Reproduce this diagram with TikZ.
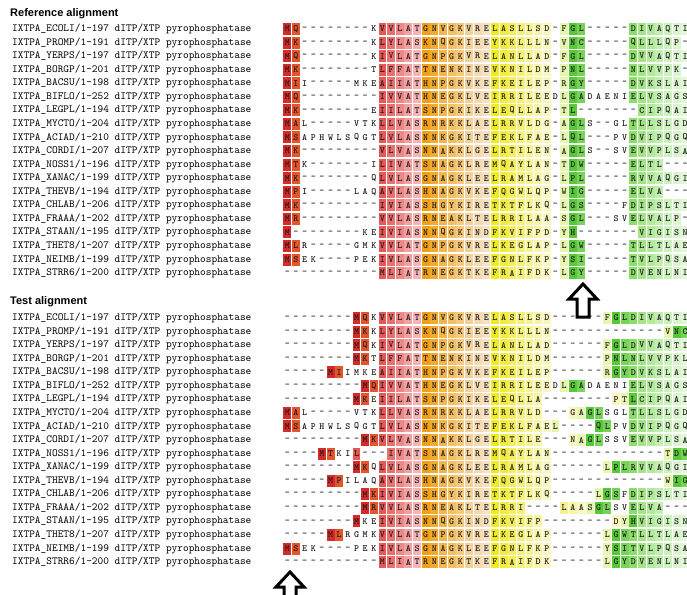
\documentclass[tikz,border=0pt]{standalone}
\usepackage{fontspec}
\setmainfont{Liberation Sans}
\usetikzlibrary{positioning}

% residue colours, one per core column of the reference alignment
\definecolor{resa}{HTML}{D42A2A}
\definecolor{resb}{HTML}{E4552E}
\definecolor{resc}{HTML}{E65858}
\definecolor{resd}{HTML}{EA7070}
\definecolor{rese}{HTML}{EE8888}
\definecolor{resf}{HTML}{F2A0A0}
\definecolor{resg}{HTML}{F5B5B5}
\definecolor{resh}{HTML}{F0A018}
\definecolor{resi}{HTML}{F2AA30}
\definecolor{resj}{HTML}{F4B54C}
\definecolor{resk}{HTML}{F5C064}
\definecolor{resl}{HTML}{F6CA7E}
\definecolor{resm}{HTML}{F2D09A}
\definecolor{resn}{HTML}{F4DAB0}
\definecolor{reso}{HTML}{F6E2C2}
\definecolor{resp}{HTML}{F0EA20}
\definecolor{resq}{HTML}{F2EC40}
\definecolor{resr}{HTML}{F4EE60}
\definecolor{ress}{HTML}{F5F07A}
\definecolor{rest}{HTML}{F6F292}
\definecolor{resu}{HTML}{F8F4AA}
\definecolor{resv}{HTML}{F9F6C2}
\definecolor{resw}{HTML}{E8F5B0}
\definecolor{resx}{HTML}{58C838}
\definecolor{resy}{HTML}{78D458}
\definecolor{res1}{HTML}{8CDE6A}
\definecolor{res2}{HTML}{A2E486}
\definecolor{res3}{HTML}{B2E99C}
\definecolor{res4}{HTML}{C2EEB0}
\definecolor{res5}{HTML}{CEF1C0}
\definecolor{res6}{HTML}{DAF4CE}
\definecolor{res7}{HTML}{E4F7DA}

\newcount\colno
\def\cellw{8.65}
\def\seqx{283}
\def\rowgap{13.56}
% colour template of the reference alignment
\def\reftpl{ab.........cdefghijklmnopqrstuv.wxy.....1234567}

% one residue: character #1, colour code #2
\def\resbox#1#2{%
  \pgfmathsetmacro\cx{\seqx+(\the\colno-0.5)*\cellw}%
  \if-#1\relax
    \node[res] (\blk-\rowid-\the\colno) at (\cx pt,\rowy pt) {-};%
  \else\if.#2\relax
    \node[res] (\blk-\rowid-\the\colno) at (\cx pt,\rowy pt) {#1};%
  \else
    \node[res, fill=res#2] (\blk-\rowid-\the\colno) at (\cx pt,\rowy pt) {#1};%
  \fi\fi}
\def\rowres#1#2\relax#3#4\relax{%
  \ifx!#1\else
    \advance\colno by 1
    \resbox{#1}{#3}%
    \rowres#2\relax#4\relax
  \fi}
% block top, row number, id, residues, colours
\newcommand\seqrow[5]{%
  \pgfmathsetmacro\rowy{-#1-(#2-1)*\rowgap}%
  \node[lbl] (\blk-lab-#2) at (12pt,\rowy pt) {IXTPA\_#3 dITP/XTP pyrophosphatase};%
  \def\rowid{#2}\colno=0
  \edef\next{\noexpand\rowres#4!\noexpand\relax#5!\noexpand\relax}\next}

\begin{document}
\begin{tikzpicture}[
    x=1pt, y=1pt,
    lbl/.style={anchor=west, inner sep=0pt, font=\ttfamily\fontsize{10.85}{11}\selectfont, text=black},
    res/.style={inner sep=0pt, minimum width=7.9pt, minimum height=12pt, font=\ttfamily\bfseries\fontsize{9.5}{10}\selectfont, text=black!90},
    title/.style={anchor=west, inner sep=0pt, font=\bfseries\fontsize{11}{12}\selectfont},
    uparrow/.style={line width=3pt, fill=white, line join=miter}
]
\useasboundingbox (0,0) rectangle (687,-594);
\begin{scope}
\clip (0,0) rectangle (687,-594);

% Reference alignment
\node[title] (reftitle) at (10,-14) {Reference alignment};
\def\blk{ref}
\seqrow{29}{1}{ECOLI/1-197}{MQ--------KVVLATGNVGKVRELASLLSD-FGL-----DIVAQTI}{\reftpl}
\seqrow{29}{2}{PROMP/1-191}{MK--------KLYLASKNQGKIEEYKKLLLN-VNC-----QLLLQP-}{\reftpl}
\seqrow{29}{3}{YERPS/1-197}{MQ--------KIVLATGNPGKVRELANLLAD-FGL-----DVVAQTI}{\reftpl}
\seqrow{29}{4}{BORGP/1-201}{MK--------TLFFATTNENKINEVKNILDM-PNL-----NLVVPK-}{\reftpl}
\seqrow{29}{5}{BACSU/1-198}{MII-----MKEAIIATHNPGKVKEFKEILEP-RGY-----DVKSLAI}{\reftpl}
\seqrow{29}{6}{BIFLO/1-252}{MQ---------IVVATHNEGKLVEIRRILEEDLGADAENIELVSAGS}{\reftpl}
\seqrow{29}{7}{LEGPL/1-194}{MK--------EIILATSNPGKIKELEQLLAP-TL-------CIPQAI}{\reftpl}
\seqrow{29}{8}{MYCTO/1-204}{MAL-----VTKLLVASRNRKKLAELRRVLDG-AGLS--GLTLLSLGD}{\reftpl}
\seqrow{29}{9}{ACIAD/1-210}{MSAPHWLSQGTLVLASNNKGKITEFEKLFAE-LQL---PVDVIPQGQ}{\reftpl}
\seqrow{29}{10}{CORDI/1-207}{MK---------VLVASNNAKKLGELRTILEN-AGLS--SVEVVPLSA}{\reftpl}
\seqrow{29}{11}{NOSS1/1-196}{MTK-------ILIVATSNAGKLREMQAYLAN-TDW-----ELTL---}{\reftpl}
\seqrow{29}{12}{XANAC/1-199}{MK--------QLVLASGNAGKLEELRAMLAG-LPL-----RVVAQGI}{\reftpl}
\seqrow{29}{13}{THEVB/1-194}{MPI-----LAQAVLASHNAGKVKEFQGWLQP-WIG-----ELVA---}{\reftpl}
\seqrow{29}{14}{CHLAB/1-206}{MK---------IVIASSHGYKIRETKTFLKQ-LGS----FDIPSLTI}{\reftpl}
\seqrow{29}{15}{FRAAA/1-202}{MR---------VVLASRNEAKLTELRRILAA-SGL---SVELVALP-}{\reftpl}
\seqrow{29}{16}{STAAN/1-195}{M--------KEIVIASNNQGKINDFKVIFPD-YH-------VIGISN}{\reftpl}
\seqrow{29}{17}{THET8/1-207}{MLR-----GMKVVLATGNPGKVRELKEGLAP-LGW-----TLLTLAE}{\reftpl}
\seqrow{29}{18}{NEIMB/1-199}{MSEK----PEKIVLASGNAGKLEEFGNLFKP-YSI-----TVLPQSA}{\reftpl}
\seqrow{29}{19}{STRR6/1-200}{-----------MLIATRNEGKTKEFRAIFDK-LGY-----DVENLNI}{\reftpl}

% Test alignment
\node[title] (testtitle) at (10,-302) {Test alignment};
\def\blk{test}
\seqrow{318}{1}{ECOLI/1-197}{--------MQKVVLATGNVGKVRELASLLSD------FGLDIVAQTI}{........ab.cdefghijklmnopqrstuv......wxy1234567}
\seqrow{318}{2}{PROMP/1-191}{--------MKKLYLASKNQGKIEEYKKLLLN-------------VNC}{........ab.cdefghijklmnopqrstuv.............wxy}
\seqrow{318}{3}{YERPS/1-197}{--------MQKIVLATGNPGKVRELANLLAD------FGLDVVAQTI}{........ab.cdefghijklmnopqrstuv......wxy1234567}
\seqrow{318}{4}{BORGP/1-201}{--------MKTLFFATTNENKINEVKNILDM------PNLNLVVPKL}{........ab.cdefghijklmnopqrstuv......wxy1234567}
\seqrow{318}{5}{BACSU/1-198}{-----MIIMKEAIIATHNPGKVKEFKEILEP------RGYDVKSLAI}{.....ab....cdefghijklmnopqrstuv......wxy1234567}
\seqrow{318}{6}{BIFLO/1-252}{---------MQIVVATHNEGKLVEIRRILEEDLGADAENIELVSAGS}{.........abcdefghijklmnopqrstuv.wxy.....1234567}
\seqrow{318}{7}{LEGPL/1-194}{--------MKEIILATSNPGKIKELEQLLA--------PTLCIPQAI}{........ab.cdefghijklmnopqrstu........vwx234567}
\seqrow{318}{8}{MYCTO/1-204}{MAL-----VTKLLVASRNRKKLAELRRVLD---GAGLSGLTLLSLGD}{ab.........cdefghijklmnopqrstu...vwxy...1234567}
\seqrow{318}{9}{ACIAD/1-210}{MSAPHWLSQGTLVLASNNKGKITEFEKLFAEL----QLPVDVIPQGQ}{ab.........cdefghijklmnopqrstuvw....xy..1234567}
\seqrow{318}{10}{CORDI/1-207}{---------MKVLVASNNAKKLGELRTILE---NAGLSSVEVVPLSA}{.........abcdefghijklmnopqrstu...vwxy...1234567}
\seqrow{318}{11}{NOSS1/1-196}{----MTKIL---IVATSNAGKLREMQAYLAN-------------TDW}{....ab..c...defghijklmnopqrstuv.............wxy}
\seqrow{318}{12}{XANAC/1-199}{--------MKQLVLASGNAGKLEELRAMLAG------LPLRVVAQGI}{........ab.cdefghijklmnopqrstuv......wxy1234567}
\seqrow{318}{13}{THEVB/1-194}{-----MPILAQAVLASHNAGKVKEFQGWLQP-------------WIG}{.....ab....cdefghijklmnopqrstuv.............wxy}
\seqrow{318}{14}{CHLAB/1-206}{---------MKIVIASSHGYKIRETKTFLKQ-----LGSFDIPSLTI}{.........abcdefghijklmnopqrstuv.....wxy.1234567}
\seqrow{318}{15}{FRAAA/1-202}{---------MRVVLASRNEAKLTELRRI----LAASGLSVELVA---}{.........abcdefghijklmnopqrs....tuvwxy..1234...}
\seqrow{318}{16}{STAAN/1-195}{--------MKEIVIASNNQGKINDFKVIFP--------DYHVIGISN}{........a..cdefghijklmnopqrstu........vwx234567}
\seqrow{318}{17}{THET8/1-207}{-----MLRGMKVVLATGNPGKVRELKEGLAP------LGWTLLTLAE}{.....ab....cdefghijklmnopqrstuv......wxy1234567}
\seqrow{318}{18}{NEIMB/1-199}{MSEK----PEKIVLASGNAGKLEEFGNLFKP------YSITVLPQSA}{ab.........cdefghijklmnopqrstuv......wxy1234567}
\seqrow{318}{19}{STRR6/1-200}{-----------MLIATRNEGKTKEFRAIFDK------LGYDVENLNI}{...........cdefghijklmnopqrstuv......wxy1234567}

% hollow up arrows marking the columns
\draw[uparrow] (583,-284) -- (597,-299) -- (589,-299) -- (589,-317) -- (577,-317) -- (577,-299) -- (569,-299) -- cycle;
\draw[uparrow] (290,-572) -- (304,-587) -- (296,-587) -- (296,-600) -- (284,-600) -- (284,-587) -- (276,-587) -- cycle;
\end{scope}
\end{tikzpicture}
\end{document}
